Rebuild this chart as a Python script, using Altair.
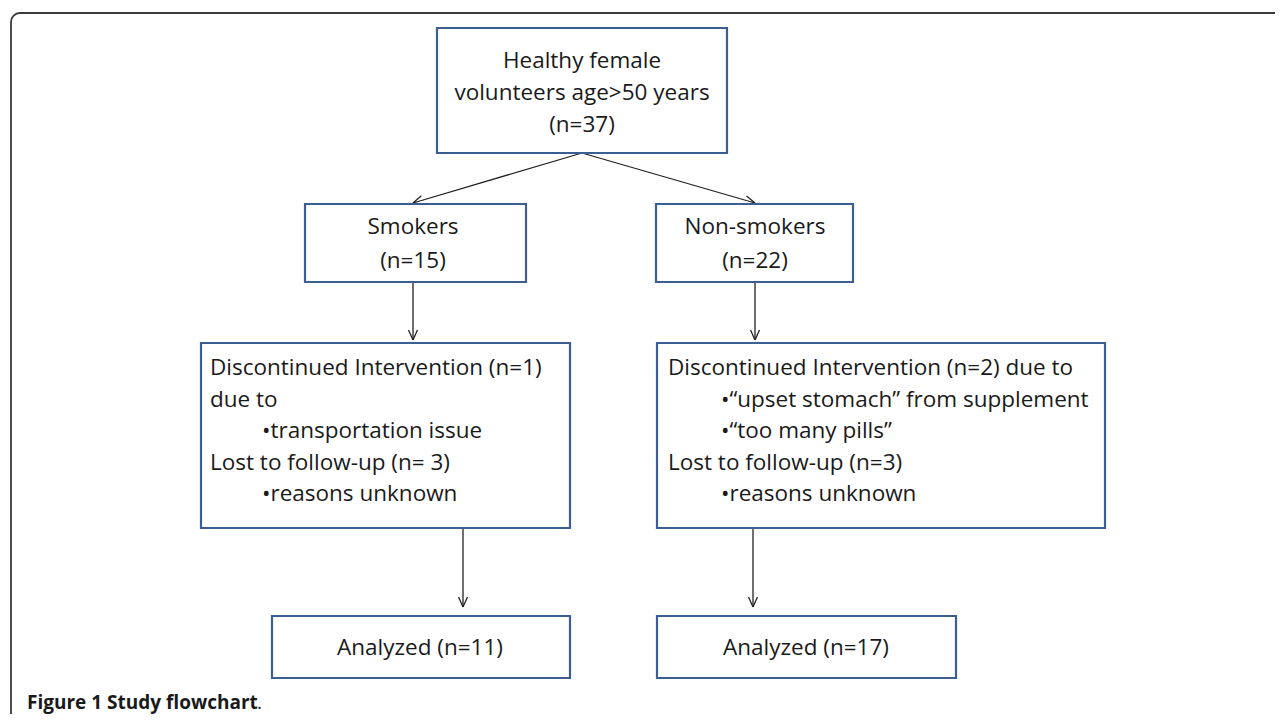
import math
import altair as alt
import pandas as pd

# ---- boxes (page pixel coordinates) ----
box_x1 = [437, 305, 656, 201, 657, 272, 657]
box_x2 = [727, 526, 853, 570, 1105, 570, 956]
box_y1 = [28, 204, 204, 343, 343, 616, 616]
box_y2 = [153, 282, 282, 528, 528, 678, 678]

# ---- text lines ----
line_text = [
    "Healthy female", "volunteers age>50 years", "(n=37)",
    "Smokers", "(n=15)",
    "Non-smokers", "(n=22)",
    "Discontinued Intervention (n=1)", "due to", "•transportation issue",
    "Lost to follow-up (n= 3)", "•reasons unknown",
    "Discontinued Intervention (n=2) due to", "•\u201cupset stomach\u201d from supplement",
    "•\u201ctoo many pills\u201d", "Lost to follow-up (n=3)", "•reasons unknown",
    "Analyzed (n=11)", "Analyzed (n=17)",
]
line_x = [582, 582, 582, 413, 413, 755, 755,
          210, 210, 262, 210, 262,
          668, 721, 721, 668, 721,
          420, 806]
line_y = [68, 100, 132, 234, 268, 234, 268,
          375, 407, 438, 470, 501,
          375, 407, 438, 470, 501,
          655, 655]
line_align = ["center"] * 7 + ["left"] * 10 + ["center"] * 2

# ---- arrows ----
arrow_x1 = [582, 582, 413, 755, 463, 753]
arrow_y1 = [153, 153, 283, 283, 529, 529]
arrow_x2 = [413, 755, 413, 755, 463, 753]
arrow_y2 = [203, 203, 340, 340, 607, 607]

caption_bold = "Figure 1 Study flowchart"
caption_end = "."

W, H = 1267, 706
xs = alt.Scale(domain=[8, 8 + W], range=[0, W], nice=False, zero=False)
ys = alt.Scale(domain=[8, 8 + H], range=[0, H], nice=False, zero=False)

def X(f, **k):
    return alt.X(f, type="quantitative", scale=xs, axis=None, **k)

def Y(f, **k):
    return alt.Y(f, type="quantitative", scale=ys, axis=None, **k)

# frame (only top/left visible, rounded corner)
frame_df = pd.DataFrame({"x": [11], "x2": [1400], "y": [13], "y2": [900]})
frame = alt.Chart(frame_df).mark_rect(
    fill="white", stroke="#3a3a3a", strokeWidth=1.8, cornerRadius=9, clip=True
).encode(x=X("x"), x2="x2", y=Y("y"), y2="y2")

boxes_df = pd.DataFrame({"x": box_x1, "x2": box_x2, "y": box_y1, "y2": box_y2})
boxes = alt.Chart(boxes_df).mark_rect(
    fill="white", stroke="#3d5f8f", strokeWidth=2.2
).encode(x=X("x"), x2="x2", y=Y("y"), y2="y2")

# arrow shafts + heads
segs = []
for x1, y1, x2, y2 in zip(arrow_x1, arrow_y1, arrow_x2, arrow_y2):
    segs.append((x1, y1, x2, y2))
    ang = math.atan2(y2 - y1, x2 - x1)
    L, a = 11, math.radians(24)
    for s in (1, -1):
        segs.append((x2, y2, x2 - L * math.cos(ang + s * a), y2 - L * math.sin(ang + s * a)))
arrows_df = pd.DataFrame(segs, columns=["x", "y", "x2", "y2"])
arrows = alt.Chart(arrows_df).mark_rule(
    color="#222222", strokeWidth=1.3
).encode(x=X("x"), x2="x2", y=Y("y"), y2="y2")

text_df = pd.DataFrame({"t": line_text, "x": line_x, "y": line_y, "a": line_align})
font = "Open Sans"
fs = 22.5
text_c = alt.Chart(text_df[text_df.a == "center"]).mark_text(
    align="center", baseline="alphabetic", font=font, fontSize=fs, color="#1a1a1a"
).encode(x=X("x"), y=Y("y"), text="t")
text_l = alt.Chart(text_df[text_df.a == "left"]).mark_text(
    align="left", baseline="alphabetic", font=font, fontSize=fs, color="#1a1a1a"
).encode(x=X("x"), y=Y("y"), text="t")

cap_df = pd.DataFrame({"t": [caption_bold], "x": [27], "y": [709]})
cap = alt.Chart(cap_df).mark_text(
    align="left", baseline="alphabetic", font="Open Sans", fontSize=19, fontWeight="bold", color="#1a1a1a"
).encode(x=X("x"), y=Y("y"), text="t")
cap2_df = pd.DataFrame({"t": [caption_end], "x": [257], "y": [709]})
cap2 = alt.Chart(cap2_df).mark_text(
    align="left", baseline="alphabetic", font="Open Sans", fontSize=19, color="#1a1a1a"
).encode(x=X("x"), y=Y("y"), text="t")

chart = alt.layer(frame, arrows, boxes, text_c, text_l, cap, cap2).properties(
    width=W, height=H, padding=0, background="white"
).configure_view(strokeWidth=0)

chart.save("out.html", embed_options={"renderer": "svg", "actions": False})
